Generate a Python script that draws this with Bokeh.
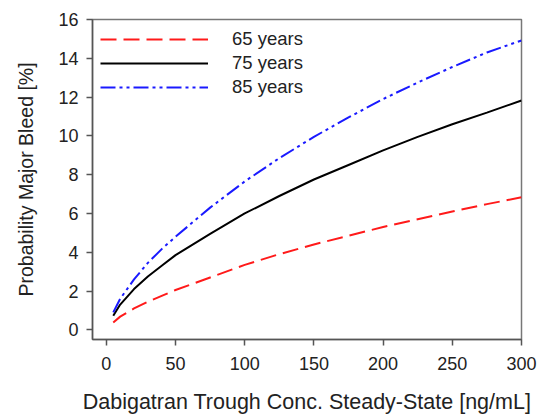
from bokeh.plotting import figure
from bokeh.models import Legend, LegendItem, Range1d, FixedTicker
from bokeh.embed import file_html
from bokeh.resources import INLINE

conc = [5, 10, 20, 30, 40, 50, 75, 100, 125, 150, 175, 200, 225, 250, 275, 300]
p65 = [0.38, 0.68, 1.10, 1.45, 1.75, 2.05, 2.70, 3.35, 3.90, 4.40, 4.85, 5.30, 5.70, 6.10, 6.48, 6.83]
p75 = [0.72, 1.30, 2.10, 2.75, 3.30, 3.85, 4.95, 6.00, 6.90, 7.75, 8.50, 9.25, 9.95, 10.60, 11.20, 11.82]
p85 = [0.90, 1.60, 2.60, 3.45, 4.16, 4.80, 6.30, 7.65, 8.85, 9.95, 10.95, 11.90, 12.75, 13.55, 14.30, 14.92]
labels = ["65 years", "75 years", "85 years"]
x_ticks = [0, 50, 100, 150, 200, 250, 300]
y_ticks = [0, 2, 4, 6, 8, 10, 12, 14, 16]

FONT = "Liberation Sans"

p = figure(width=537, height=411, output_backend="svg", toolbar_location=None,
           x_range=Range1d(-10, 300), y_range=Range1d(-0.5, 16),
           frame_width=429, frame_height=320,
           min_border_left=92, min_border_top=19, min_border_right=16, min_border_bottom=72)

p.xgrid.visible = False
p.ygrid.visible = False
p.outline_line_color = "#777777"
p.outline_line_width = 1.5

r1 = p.line(conc, p65, line_color="#ff1a1a", line_width=2, line_dash="16 7")
r2 = p.line(conc, p75, line_color="#000000", line_width=2)
r3 = p.line(conc, p85, line_color="#1a1aff", line_width=2, line_dash="15 4 3 4 3 4")

for ax in (p.xaxis[0], p.yaxis[0]):
    ax.axis_line_color = "#555555"
    ax.axis_line_width = 1.5
    ax.major_tick_line_color = "#555555"
    ax.major_tick_line_width = 1.5
    ax.major_tick_out = 6
    ax.major_tick_in = 0
    ax.minor_tick_line_color = None
    ax.major_label_text_font = FONT
    ax.major_label_text_font_size = "18px"
    ax.major_label_text_color = "#222222"
    ax.axis_label_text_font = FONT
    ax.axis_label_text_font_style = "normal"
    ax.axis_label_text_color = "#222222"

p.xaxis[0].ticker = FixedTicker(ticks=x_ticks)
p.yaxis[0].ticker = FixedTicker(ticks=y_ticks)
p.xaxis[0].axis_label = "Dabigatran Trough Conc. Steady-State [ng/mL]"
p.yaxis[0].axis_label = "Probability Major Bleed [%]"
p.xaxis[0].axis_label_text_font_size = "21.5px"
p.yaxis[0].axis_label_text_font_size = "19.5px"
p.xaxis[0].major_label_standoff = 11
p.yaxis[0].major_label_standoff = 8
p.xaxis[0].axis_label_standoff = 17
p.yaxis[0].axis_label_standoff = 18

legend = Legend(items=[LegendItem(label=labels[0], renderers=[r1]),
                       LegendItem(label=labels[1], renderers=[r2]),
                       LegendItem(label=labels[2], renderers=[r3])],
                location="top_left", margin=8, padding=8, spacing=0,
                glyph_width=108, glyph_height=24, label_height=24, label_standoff=24,
                border_line_color=None, background_fill_alpha=0,
                label_text_font=FONT, label_text_font_size="18.5px", label_text_color="#222222")
p.add_layout(legend)

open("out.html", "w").write(file_html(p, INLINE))
